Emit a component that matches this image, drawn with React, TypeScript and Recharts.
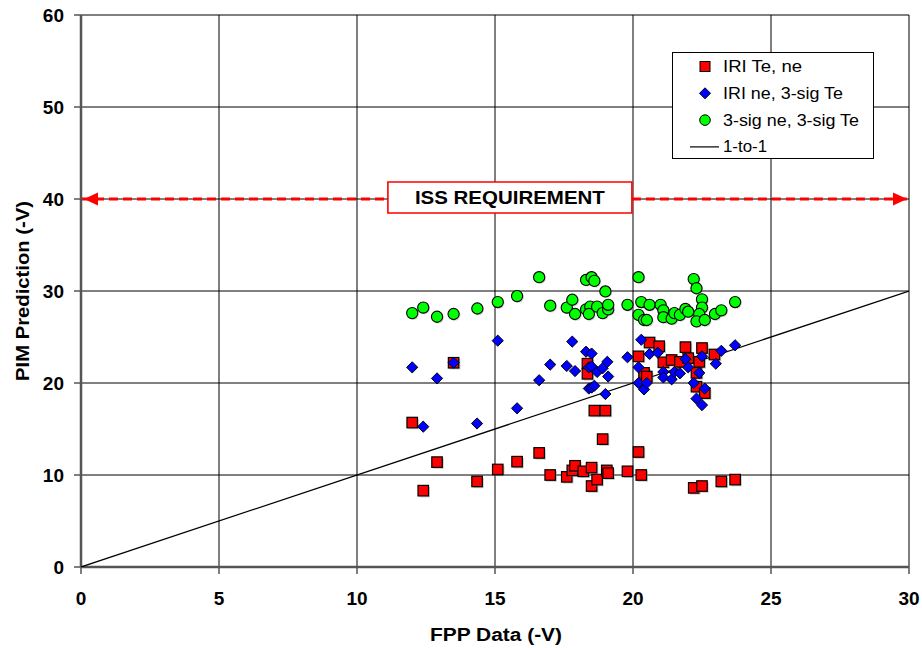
import React from "react";
import {
  ScatterChart,
  Scatter,
  XAxis,
  YAxis,
  CartesianGrid,
  ReferenceLine,
  ReferenceArea,
  ReferenceDot,
  Legend,
} from "recharts";

const FONT = '"Liberation Sans", Arial, sans-serif';

type Pt = { x: number; y: number };
const toPts = (arr: number[][]): Pt[] => arr.map(([x, y]) => ({ x, y }));

// FPP data (-V) vs PIM prediction (-V)
const iriTeNe = toPts([
  [12.0, 15.7], [12.4, 8.3], [12.9, 11.4], [13.5, 22.2], [14.35, 9.3], [15.1, 10.6],
  [15.8, 11.45], [16.6, 12.4], [17.0, 10.0], [17.6, 9.8], [17.8, 10.5], [17.9, 11.0],
  [18.2, 10.4], [18.35, 22.1], [18.35, 21.0], [18.5, 10.8], [18.5, 8.8], [18.6, 17.0],
  [18.7, 9.5], [18.9, 13.9], [19.0, 17.0], [19.05, 10.5], [19.1, 10.2], [19.8, 10.4],
  [20.2, 12.5], [20.3, 10.0], [20.2, 22.9], [20.4, 21.1], [20.5, 20.7], [20.6, 24.4],
  [20.95, 24.0], [21.1, 22.25], [21.4, 22.5], [21.7, 22.3], [21.9, 23.9], [22.0, 22.7],
  [22.3, 21.1], [22.3, 19.6], [22.4, 22.3], [22.5, 23.8], [22.6, 18.9], [22.95, 23.1],
  [22.2, 8.6], [22.5, 8.8], [23.2, 9.3], [23.7, 9.5],
]);

const iriNe3SigTe = toPts([
  [12.0, 21.7], [12.4, 15.25], [12.9, 20.5], [13.5, 22.2], [14.35, 15.6], [15.1, 24.6],
  [15.8, 17.25], [16.6, 20.3], [17.0, 22.0], [17.6, 21.85], [17.8, 24.5], [17.9, 21.3],
  [18.3, 23.4], [18.5, 23.2], [18.4, 21.7], [18.5, 21.8], [18.7, 21.2], [18.9, 21.6],
  [19.07, 22.3], [19.1, 20.7], [18.4, 19.4], [18.5, 19.5], [18.6, 19.7], [19.0, 18.8],
  [19.8, 22.8], [20.3, 24.7], [20.2, 21.7], [20.2, 20.0], [20.4, 19.3], [20.5, 20.0],
  [20.6, 23.15], [20.9, 23.3], [21.1, 21.2], [21.1, 20.6], [21.4, 20.4], [21.5, 21.2],
  [21.7, 21.05], [21.9, 22.6], [22.0, 21.7], [22.2, 20.0], [22.3, 18.3], [22.5, 17.6],
  [22.5, 22.9], [22.4, 21.1], [22.6, 19.4], [23.0, 22.1], [23.2, 23.5], [23.7, 24.1],
]);

const sig3NeTe = toPts([
  [12.0, 27.6], [12.4, 28.2], [12.9, 27.2], [13.5, 27.5], [14.36, 28.1], [15.1, 28.8],
  [15.8, 29.45], [16.6, 31.5], [17.0, 28.4], [17.6, 28.2], [17.8, 29.05], [17.9, 27.5],
  [18.3, 28.0], [18.45, 28.3], [18.3, 31.2], [18.5, 31.5], [18.6, 31.1], [18.4, 27.5],
  [18.7, 28.3], [18.9, 27.6], [19.0, 29.95], [19.1, 28.0], [19.1, 28.5], [19.8, 28.5],
  [20.2, 31.5], [20.3, 28.8], [20.2, 27.4], [20.4, 26.85], [20.5, 26.85], [20.6, 28.5],
  [21.0, 28.5], [21.1, 27.9], [21.1, 27.15], [21.4, 27.0], [21.5, 27.6], [21.7, 27.4],
  [21.9, 28.05], [22.0, 27.75], [22.2, 31.3], [22.3, 30.3], [22.5, 29.1], [22.5, 28.2],
  [22.4, 27.5], [22.3, 26.7], [22.6, 26.85], [22.97, 27.5], [23.2, 27.9], [23.7, 28.8],
]);

const oneToOne: Pt[] = [
  { x: 0, y: 0 },
  { x: 30, y: 30 },
];

const xTicks = [0, 5, 10, 15, 20, 25, 30];
const yTicks = [0, 10, 20, 30, 40, 50, 60];

const ISS_LEVEL = 40;
const issBox = { x1: 11.12, x2: 19.96, y1: 38.48, y2: 41.85 };

const legendItems = [
  { name: "IRI Te, ne", kind: "square", len: 79 },
  { name: "IRI ne, 3-sig Te", kind: "diamond", len: 120 },
  { name: "3-sig ne, 3-sig Te", kind: "circle", len: 136 },
  { name: "1-to-1", kind: "line", len: 44 },
];

const Square = ({ cx, cy }: any) => {
  const s = 10.5;
  return (
    <g>
      <rect x={cx - s / 2 + 1.5} y={cy - s / 2 + 1.5} width={s} height={s} fill="#8c8c8c" opacity={0.45} />
      <rect x={cx - s / 2} y={cy - s / 2} width={s} height={s} fill="#ff0000" stroke="#000" strokeWidth={1.2} />
    </g>
  );
};

const Diamond = ({ cx, cy }: any) => {
  const r = 5.6;
  return (
    <polygon
      points={`${cx},${cy - r} ${cx + r},${cy} ${cx},${cy + r} ${cx - r},${cy}`}
      fill="#0000ff"
      stroke="#000"
      strokeWidth={1}
    />
  );
};

const Circle = ({ cx, cy }: any) => (
  <g>
    <circle cx={cx + 1.2} cy={cy + 1.2} r={5.6} fill="#8c8c8c" opacity={0.35} />
    <circle cx={cx} cy={cy} r={5.6} fill="#00ff00" stroke="#000" strokeWidth={1.1} />
  </g>
);

const NoDot = () => <g />;

const LeftArrow = ({ cx, cy }: any) => (
  <polygon points={`${cx + 3},${cy} ${cx + 17},${cy - 6.5} ${cx + 17},${cy + 6.5}`} fill="#ff0000" />
);
const RightArrow = ({ cx, cy }: any) => (
  <polygon points={`${cx - 2},${cy} ${cx - 16},${cy - 6.5} ${cx - 16},${cy + 6.5}`} fill="#ff0000" />
);

const IssLabel = (props: any) => {
  const vb = props.viewBox || {};
  const cx = vb.x + vb.width / 2;
  const cy = vb.y + vb.height / 2;
  return (
    <text
      x={cx}
      y={cy + 6.5}
      textAnchor="middle"
      fontSize={18}
      fontWeight="bold"
      fontFamily={FONT}
      fill="#000"
      textLength={190}
      lengthAdjust="spacingAndGlyphs"
    >
      ISS REQUIREMENT
    </text>
  );
};

function LegendBox() {
  return (
    <svg width={203} height={108} style={{ display: "block" }}>
      <rect x={0.5} y={0.5} width={201} height={106} fill="#fff" stroke="#000" strokeWidth={1} />
      {legendItems.map((it, i) => {
        const cy = 14.5 + i * 26.8;
        const mx = 33;
        return (
          <g key={it.name}>
            {it.kind === "square" && (
              <rect x={mx - 5} y={cy - 5} width={10} height={10} fill="#ff0000" stroke="#000" strokeWidth={1} />
            )}
            {it.kind === "diamond" && (
              <polygon
                points={`${mx},${cy - 5.5} ${mx + 5.5},${cy} ${mx},${cy + 5.5} ${mx - 5.5},${cy}`}
                fill="#0000ff"
                stroke="#000"
                strokeWidth={1}
              />
            )}
            {it.kind === "circle" && <circle cx={mx} cy={cy} r={5.3} fill="#00ff00" stroke="#000" strokeWidth={1} />}
            {it.kind === "line" && <line x1={18} x2={47} y1={cy} y2={cy} stroke="#000" strokeWidth={1.2} />}
            <text
              x={51}
              y={cy + 5.5}
              fontSize={16}
              fontFamily={FONT}
              fill="#000"
              textLength={it.len}
              lengthAdjust="spacingAndGlyphs"
            >
              {it.name}
            </text>
          </g>
        );
      })}
    </svg>
  );
}

export default function App() {
  return (
    <div style={{ position: "absolute", left: 0, top: 0, background: "#fff" }}>
      <ScatterChart width={922} height={648} margin={{ top: 15, right: 13, bottom: 0, left: 0 }}>
        <CartesianGrid stroke="#000" strokeWidth={1} />
        <XAxis
          type="number"
          dataKey="x"
          domain={[0, 30]}
          ticks={xTicks}
          height={81}
          allowDataOverflow
          axisLine={{ stroke: "#555", strokeWidth: 2.5 }}
          tickLine={{ stroke: "#555", strokeWidth: 1.5 }}
          tickSize={7}
          tickMargin={18}
          tick={{ fontSize: 19, fontWeight: "bold", fill: "#000", fontFamily: FONT }}
        />
        <YAxis
          type="number"
          dataKey="y"
          domain={[0, 60]}
          ticks={yTicks}
          width={81}
          allowDataOverflow
          axisLine={{ stroke: "#555", strokeWidth: 2.5 }}
          tickLine={{ stroke: "#555", strokeWidth: 1.5 }}
          tickSize={7}
          tickMargin={10}
          tick={{ fontSize: 19, fontWeight: "bold", fill: "#000", fontFamily: FONT }}
        />
        <ReferenceLine
          segment={[
            { x: 0, y: ISS_LEVEL },
            { x: issBox.x1, y: ISS_LEVEL },
          ]}
          stroke="#ff0000"
          strokeWidth={3}
          strokeDasharray="9 5"
        />
        <ReferenceLine
          segment={[
            { x: issBox.x2, y: ISS_LEVEL },
            { x: 30, y: ISS_LEVEL },
          ]}
          stroke="#ff0000"
          strokeWidth={3}
          strokeDasharray="9 5"
        />
        <ReferenceDot x={0} y={ISS_LEVEL} shape={LeftArrow} />
        <ReferenceDot x={30} y={ISS_LEVEL} shape={RightArrow} />
        <ReferenceArea
          x1={issBox.x1}
          x2={issBox.x2}
          y1={issBox.y1}
          y2={issBox.y2}
          fill="#fff"
          fillOpacity={1}
          stroke="#ff0000"
          strokeWidth={1.6}
          label={(p: any) => <IssLabel {...p} />}
        />
        <Scatter
          name="1-to-1"
          data={oneToOne}
          line={{ stroke: "#000", strokeWidth: 1.3 }}
          shape={NoDot}
          isAnimationActive={false}
        />
        <Scatter name="IRI Te, ne" data={iriTeNe} shape={Square} isAnimationActive={false} />
        <Scatter name="IRI ne, 3-sig Te" data={iriNe3SigTe} shape={Diamond} isAnimationActive={false} />
        <Scatter name="3-sig ne, 3-sig Te" data={sig3NeTe} shape={Circle} isAnimationActive={false} />
        <Legend
          layout="horizontal"
          verticalAlign="middle"
          content={() => <LegendBox />}
          wrapperStyle={{ position: "absolute", left: 672, top: 52, width: 203, height: 108 }}
        />
        <text
          x={496}
          y={641}
          textAnchor="middle"
          fontSize={18}
          fontWeight="bold"
          fontFamily={FONT}
          fill="#000"
          textLength={132}
          lengthAdjust="spacingAndGlyphs"
        >
          FPP Data (-V)
        </text>
        <text
          x={0}
          y={0}
          transform="translate(29,291) rotate(-90)"
          textAnchor="middle"
          fontSize={18}
          fontWeight="bold"
          fontFamily={FONT}
          fill="#000"
          textLength={180}
          lengthAdjust="spacingAndGlyphs"
        >
          PIM Prediction (-V)
        </text>
      </ScatterChart>
    </div>
  );
}
